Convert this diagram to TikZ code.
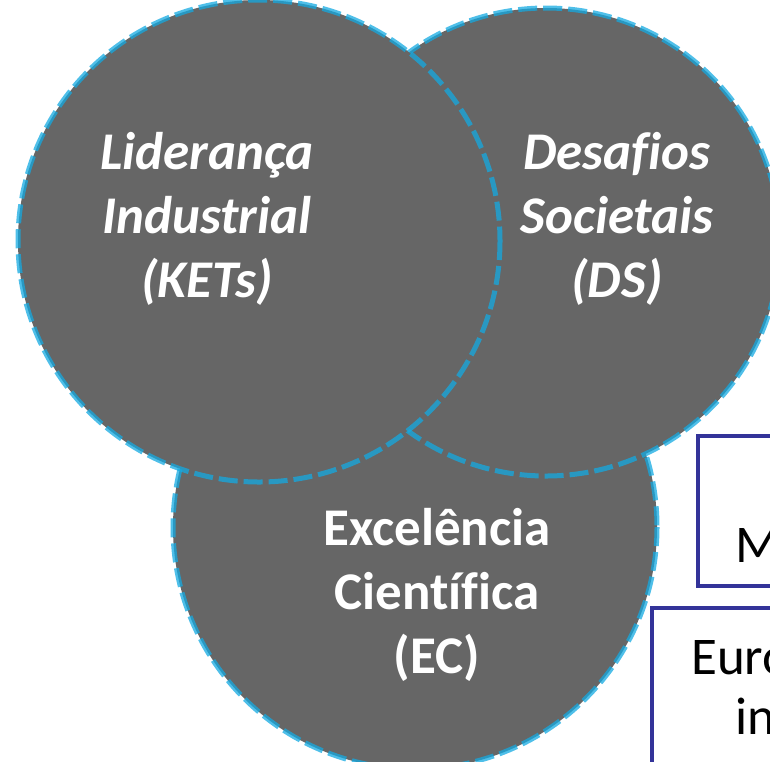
\documentclass[tikz,border=0pt]{standalone}
\usepackage{fontspec}
\setmainfont{Carlito}[Ligatures=CommonOff]
\definecolor{circfill}{RGB}{102,102,102}
\definecolor{rimblue}{RGB}{20,170,225}
\definecolor{navy}{RGB}{51,51,153}
\begin{document}
\begin{tikzpicture}[x=1pt,y=-1pt,
  venn/.style={fill=circfill},
  rim/.style={draw=rimblue,draw opacity=0.75,line width=5pt,dash pattern=on 19pt off 6pt},
  lbl/.style={text=white,align=center,font=\fontsize{53}{64}\selectfont\bfseries},
  boxframe/.style={draw=navy,line width=4pt,fill=white},
  boxtext/.style={text=black,font=\fontsize{53}{64}\selectfont,anchor=base west,inner sep=0pt}]
\useasboundingbox (0,0) rectangle (770,761);
% EC circle
\fill[venn] (415,527) circle (242);
\draw[rim] (415,527) circle (242);
% DS circle
\fill[venn] (546,242) circle (234);
\draw[rim] (546,242) circle (234);
% KETs circle
\fill[venn] (259,241) circle (241);
\draw[rim] (259,241) circle (241);
% labels
\node[lbl,font=\fontsize{53}{64}\selectfont\bfseries\itshape] (kets) at (207,219) {Liderança\\Industrial\\(KETs)};
\node[lbl,font=\fontsize{53}{64}\selectfont\bfseries\itshape] (ds) at (617,219) {Desafios\\Societais\\(DS)};
\node[lbl] (ec) at (437,595) {Excelência\\Científica\\(EC)};
% boxes on the right
\draw[boxframe] (698,436) rectangle (820,586);
\draw[boxframe] (652,608) rectangle (820,820);
\node[boxtext] (m) at (735,562) {M};
\node[boxtext] (eur) at (691,674) {Euro};
\node[boxtext] (in) at (735,734) {in};
\end{tikzpicture}
\end{document}
